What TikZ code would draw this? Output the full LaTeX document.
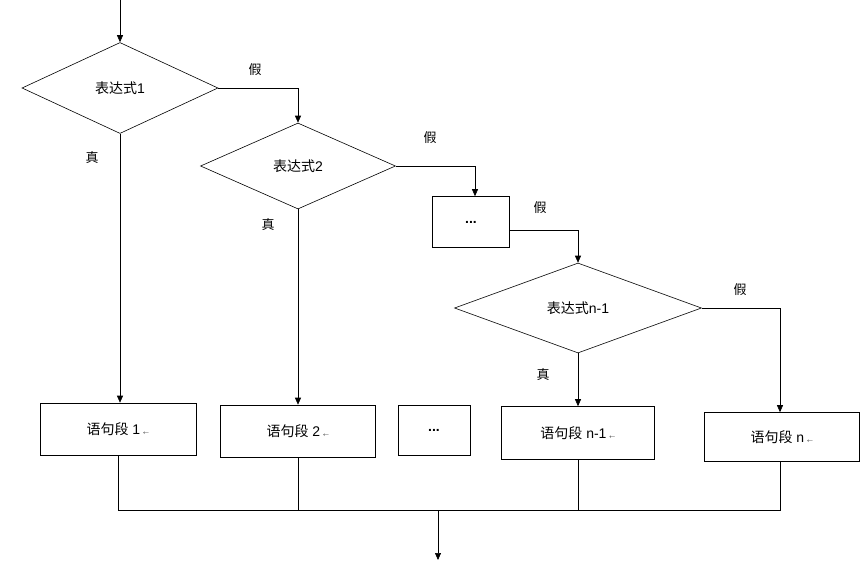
\documentclass[tikz,border=0pt]{standalone}
\usepackage{fontspec}
\setmainfont{Liberation Sans}
\newfontfamily\cjk{Noto Sans CJK SC}
\usetikzlibrary{shapes.geometric,arrows.meta}
\begin{document}
\begin{tikzpicture}[
		x=1pt, y=-1pt,
		line width=0.6pt,
		every node/.style={font=\fontsize{14}{16}\selectfont},
		cond/.style={diamond, draw, inner sep=0pt, minimum width=#1},
		cond/.default=196pt,
		block/.style={draw, rectangle, inner sep=0pt},
		flow/.style={-{Triangle[length=7pt,width=6pt]}},
		lbl/.style={font=\cjk\fontsize{13}{15}\selectfont}
		]
	\useasboundingbox (0,0) rectangle (865,560);
	
	% conditions
	\coordinate (start) at (120,0);
	\node[cond, minimum height=91pt] (c1) at (120,88) {{\cjk 表达式}1};
	\node[cond=195pt, minimum height=86pt] (c2) at (298,166) {{\cjk 表达式}2};
	\node[block, minimum width=77pt, minimum height=51pt] (dots) at (471,222) {\textbf{...}};
	\node[cond=247pt, minimum height=90pt] (cn) at (578,308) {{\cjk 表达式}n-1};
	
	% statements
	\node[block, minimum width=156pt, minimum height=52pt] (s1) at (118,429) {{\cjk 语句段} 1\,\tiny$\leftarrow$};
	\node[block, minimum width=155pt, minimum height=52pt] (s2) at (298,431) {{\cjk 语句段} 2\,\tiny$\leftarrow$};
	\node[block, minimum width=72pt, minimum height=50pt] (sd) at (434,430) {\textbf{...}};
	\node[block, minimum width=153pt, minimum height=53pt] (sn1) at (578,433) {{\cjk 语句段} n-1\,\tiny$\leftarrow$};
	\node[block, minimum width=155pt, minimum height=49pt] (sn) at (782,437) {{\cjk 语句段} n\,\tiny$\leftarrow$};
	
	% false branches
	\draw[flow] (start) -- (c1.north);
	\draw[flow] (c1.east) -| (c2.north);
	\draw[flow] (c2.east) -| (dots.north -| 475,0);
	\draw[flow] (dots.east |- 0,230) -| (cn.north);
	\draw[flow] (cn.east) -| (sn.north -| 780,0);
	
	% true branches
	\draw[flow] (c1.south) -- (s1.north -| c1.south);
	\draw[flow] (c2.south) -- (s2.north);
	\draw[flow] (cn.south) -- (sn1.north);
	
	% labels
	\node[lbl] at (255,70) {假};
	\node[lbl] at (430,138) {假};
	\node[lbl] at (540,208) {假};
	\node[lbl] at (740,290) {假};
	\node[lbl] at (92,158) {真};
	\node[lbl] at (268,225) {真};
	\node[lbl] at (543,375) {真};
	
	% join
	\coordinate (j1) at (118,510);
	\coordinate (j2) at (780,510);
	\coordinate (out) at (438,560);
	\draw (s1.south) -- (j1) -- (j2) -- (sn.south -| j2);
	\draw (s2.south) -- (s2.south |- j1);
	\draw (sn1.south) -- (sn1.south |- j1);
	\draw[flow] (out |- j1) -- (out);
\end{tikzpicture}
\end{document}
